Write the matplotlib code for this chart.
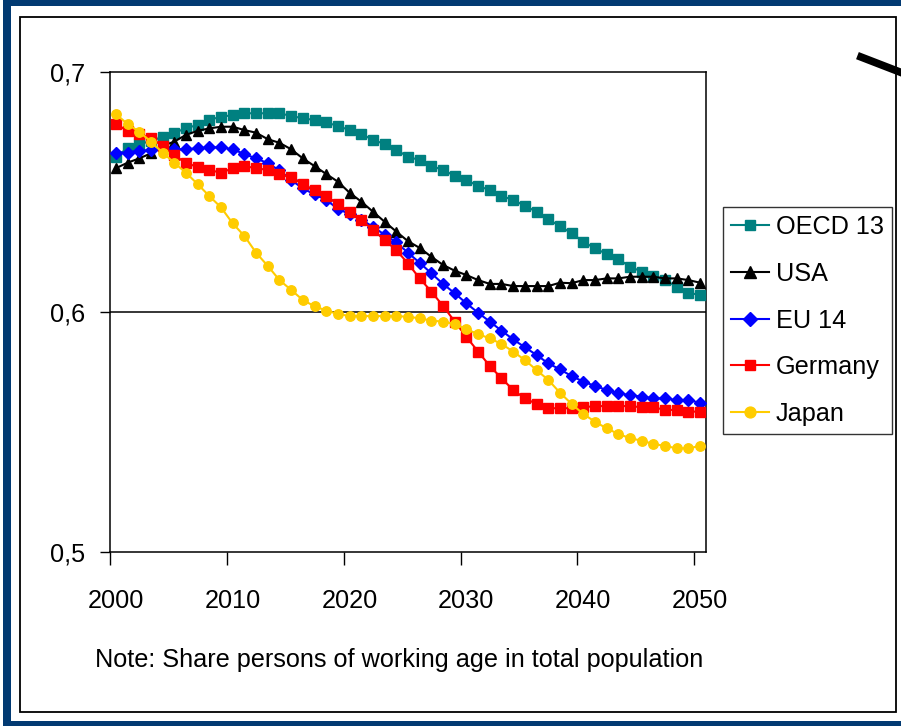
import matplotlib
matplotlib.use("Agg")
import matplotlib.pyplot as plt
from matplotlib import font_manager
from matplotlib.patches import Rectangle
from matplotlib.lines import Line2D
import numpy as np

years = np.arange(2000, 2051)

oecd13 = [0.6647, 0.6682, 0.6700, 0.6712, 0.6730, 0.6747, 0.6765, 0.6780, 0.6800, 0.6814,
          0.6820, 0.6828, 0.6828, 0.6828, 0.6828, 0.6817, 0.6807, 0.6800, 0.6790, 0.6775,
          0.6758, 0.6742, 0.6717, 0.6700, 0.6675, 0.6647, 0.6633, 0.6608, 0.6592, 0.6567,
          0.6550, 0.6525, 0.6508, 0.6483, 0.6467, 0.6442, 0.6418, 0.6386, 0.6358, 0.6328,
          0.6293, 0.6265, 0.6242, 0.6220, 0.6189, 0.6168, 0.6150, 0.6133, 0.6105, 0.6080,
          0.6071]
usa = [0.6599, 0.6622, 0.6640, 0.6661, 0.6692, 0.6710, 0.6738, 0.6755, 0.6765, 0.6772,
       0.6772, 0.6758, 0.6747, 0.6720, 0.6705, 0.6678, 0.6640, 0.6608, 0.6575, 0.6543,
       0.6497, 0.6460, 0.6418, 0.6376, 0.6335, 0.6295, 0.6267, 0.6230, 0.6196, 0.6172,
       0.6154, 0.6133, 0.6117, 0.6117, 0.6108, 0.6108, 0.6108, 0.6108, 0.6122, 0.6120,
       0.6133, 0.6133, 0.6140, 0.6140, 0.6147, 0.6147, 0.6147, 0.6140, 0.6140, 0.6133,
       0.6122]
eu14 = [0.6664, 0.6664, 0.6672, 0.6675, 0.6678, 0.6678, 0.6678, 0.6682, 0.6686, 0.6686,
        0.6678, 0.6658, 0.6640, 0.6620, 0.6590, 0.6550, 0.6515, 0.6490, 0.6467, 0.6430,
        0.6408, 0.6385, 0.6355, 0.6322, 0.6290, 0.6247, 0.6205, 0.6161, 0.6117, 0.6078,
        0.6036, 0.5997, 0.5960, 0.5922, 0.5886, 0.5853, 0.5821, 0.5786, 0.5761, 0.5733,
        0.5710, 0.5692, 0.5675, 0.5661, 0.5654, 0.5647, 0.5640, 0.5640, 0.5633, 0.5633,
        0.5622]
germany = [0.6783, 0.6755, 0.6742, 0.6724, 0.6692, 0.6654, 0.6620, 0.6605, 0.6592, 0.6580,
           0.6599, 0.6608, 0.6599, 0.6592, 0.6575, 0.6561, 0.6533, 0.6508, 0.6483, 0.6450,
           0.6418, 0.6383, 0.6342, 0.6300, 0.6258, 0.6202, 0.6140, 0.6085, 0.6025, 0.5960,
           0.5896, 0.5835, 0.5775, 0.5724, 0.5675, 0.5640, 0.5617, 0.5599, 0.5599, 0.5599,
           0.5603, 0.5608, 0.5608, 0.5608, 0.5608, 0.5603, 0.5603, 0.5592, 0.5592, 0.5585,
           0.5585]
japan = [0.6825, 0.6783, 0.6751, 0.6710, 0.6664, 0.6622, 0.6580, 0.6533, 0.6483, 0.6436,
         0.6369, 0.6317, 0.6247, 0.6192, 0.6133, 0.6092, 0.6050, 0.6024, 0.6006, 0.5992,
         0.5983, 0.5983, 0.5983, 0.5983, 0.5983, 0.5980, 0.5974, 0.5964, 0.5960, 0.5950,
         0.5928, 0.5908, 0.5890, 0.5867, 0.5835, 0.5800, 0.5758, 0.5717, 0.5664, 0.5617,
         0.5575, 0.5543, 0.5515, 0.5492, 0.5474, 0.5464, 0.5450, 0.5442, 0.5432, 0.5432,
         0.5442]

series = [("OECD 13", oecd13, "#008080", "s", 6.8),
          ("USA", usa, "black", "^", 7.8),
          ("EU 14", eu14, "#0000FF", "D", 5.8),
          ("Germany", germany, "#FF0000", "s", 6.8),
          ("Japan", japan, "#FFCC00", "o", 6.8)]

x_ticks = [2000, 2010, 2020, 2030, 2040, 2050]
y_ticks = [0.5, 0.6, 0.7]
y_labels = ["0,5", "0,6", "0,7"]
note = "Note: Share persons of working age in total population"

have = {f.name for f in font_manager.fontManager.ttflist}
if "Liberation Sans Narrow" in have:
    plt.rcParams["font.family"] = ["Liberation Sans Narrow", "DejaVu Sans"]
    FS = 21
else:
    plt.rcParams["font.family"] = ["Liberation Sans", "DejaVu Sans"]
    FS = 18.2

W, H = 901, 726
fig = plt.figure(figsize=(W / 100, H / 100), dpi=100)

# frame decorations
navy = "#023a72"
for (x0, y0, w, h) in [(3, 0, 8, 726), (3, 0, 898, 6), (3, 721, 898, 5)]:
    fig.add_artist(Rectangle((x0 / W, 1 - (y0 + h) / H), w / W, h / H,
                             transform=fig.transFigure, color=navy, lw=0))
fig.add_artist(Rectangle((19.5 / W, 1 - 712 / H), (896 - 19.5) / W, (712 - 17) / H,
                         transform=fig.transFigure, fill=False, ec="black", lw=1.3))
fig.add_artist(Line2D([861 / W, 905 / W], [1 - 57 / H, 1 - 74 / H],
                      transform=fig.transFigure, color="black", lw=5.5))

ax = fig.add_axes([110 / W, 1 - 552 / H, (706 - 110) / W, (552 - 72) / H])
handles = []
for name, vals, col, mk, ms in series:
    h, = ax.plot(years, vals, color=col, lw=1.5, marker=mk, ms=ms,
                 mec=col, mfc=col, label=name, zorder=3)
    handles.append(h)

ax.set_xlim(1999.5, 2050.5)
ax.set_ylim(0.5, 0.7)
ax.axhline(0.6, color="black", lw=1.1, zorder=1)

ax.set_xticks([t - 0.5 for t in x_ticks])
ax.set_xticklabels([])
ax.set_xticks(x_ticks, minor=True)
ax.set_xticklabels([str(t) for t in x_ticks], minor=True, fontsize=FS)
ax.tick_params(axis="x", which="major", direction="out", length=9, width=1)
ax.tick_params(axis="x", which="minor", length=0, pad=27)
ax.set_yticks(y_ticks)
ax.set_yticklabels(y_labels, fontsize=FS)
ax.tick_params(axis="y", direction="out", length=7, width=1, pad=11)
for s in ax.spines.values():
    s.set_linewidth(1.1)

leg = fig.legend(handles=handles, loc="upper left",
                 bbox_to_anchor=(723 / W, 1 - 207 / H), fontsize=FS,
                 frameon=True, fancybox=False, edgecolor="black",
                 handlelength=1.5, handletextpad=0.28, labelspacing=0.9,
                 borderpad=0.32, borderaxespad=0, markerscale=1.15)
leg.get_frame().set_linewidth(1.0)

fig.text(95 / W, 1 - 660 / H, note, fontsize=FS, va="center", ha="left")

fig.savefig("out.png", dpi=100)
